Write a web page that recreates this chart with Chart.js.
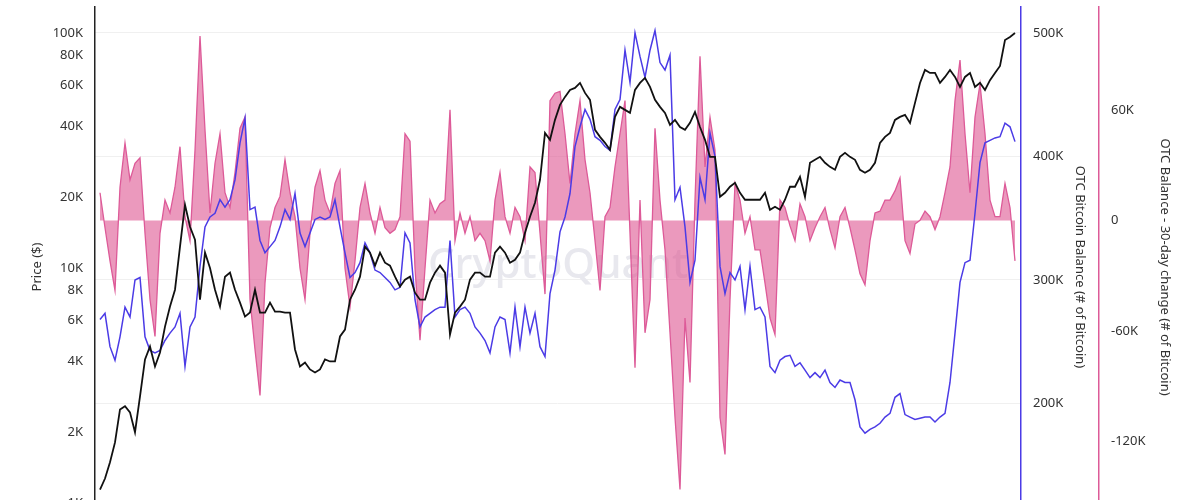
<!DOCTYPE html>
<html>
<head>
<meta charset="utf-8">
<script src="https://cdn.jsdelivr.net/npm/chart.js@4.4.1/dist/chart.umd.min.js"></script>
<style>
  html, body { margin: 0; padding: 0; background: #fff; overflow: hidden; }
  canvas { display: block; }
</style>
</head>
<body>
<canvas id="chart" width="1200" height="540"></canvas>
<script>
// one point every half month, starting around April 2017
const startYear = 2017.25

// BTC price ($)
const price = [
  1140, 1270, 1490, 1810, 2500, 2580, 2430, 2000, 2840, 4080, 4630, 3810, 4370, 5630, 6850, 8080, 12320, 18580, 14980, 13190, 7330, 11620, 10000,
  8080, 6850, 9180, 9550, 8080, 7120, 6210, 6460, 8080, 6460, 6460, 7120, 6520, 6520, 6460, 6460, 4500, 3810, 3960, 3700, 3590, 3700, 4080, 4000,
  4000, 5110, 5470, 7330, 8080, 9180, 12320, 11620, 10230, 11620, 10530, 10230, 9180, 8330, 8920, 9180, 7850, 7330, 7330, 8660, 9550, 10230,
  9550, 5210, 6460, 6850, 7330, 8920, 9550, 9550, 9180, 9180, 11620, 12320, 11620, 10530, 10840, 11620, 14130, 16520, 18950, 23730, 37580, 35100, 42680, 49430,
  53460, 57250, 58370, 61310, 55590, 51910, 38700, 36140, 34080, 31820, 43950, 48470, 47070, 45710, 57250, 61310, 64390, 58960, 51910, 48470, 45710, 40650,
  42680, 39800, 38700, 41450, 46160, 39800, 35100, 29710, 29710, 20090, 20890, 22160, 23040, 20890, 19510, 19510, 19510, 19510, 20890, 17690, 18220, 17690, 19510, 22160,
  22160, 24430, 20090, 28020, 28850, 29710, 28020, 26940, 26170, 29710, 30900, 29710, 28850, 26170, 25410, 26170, 28020, 34080, 36140, 37580, 42680, 43950, 44820,
  41450, 50410, 61310, 69620, 67610, 67610, 61310, 65010, 69620, 65010, 58960, 65010, 67610, 58960, 61310, 57250, 63000, 67610, 72400, 93380, 96160, 100000
]

// OTC bitcoin balance (thousand BTC)
const otcBalanceK = [
  268, 273, 246, 235, 254, 278, 270, 300, 302, 254, 243, 241, 243, 251, 257, 262, 273, 230, 262, 270, 311, 343, 351,
  354, 365, 359, 365, 381, 411, 431, 357, 359, 332, 322, 327, 332, 343, 357, 349, 370, 338, 327, 338, 349, 351, 349, 351,
  365, 343, 322, 302, 306, 314, 330, 322, 308, 306, 302, 298, 292, 294, 338, 330, 284, 262, 270, 273, 276, 278,
  278, 332, 270, 276, 278, 273, 262, 257, 251, 241, 262, 270, 268, 241, 278, 246, 278, 257, 273, 246, 238, 289, 308, 339,
  351, 370, 408, 424, 438, 430, 416, 413, 408, 405, 438, 446, 486, 460, 500, 481, 464, 486, 502, 476, 470, 482,
  365, 375, 343, 298, 316, 383, 365, 419, 400, 311, 289, 306, 300, 311, 276, 311, 276, 278, 270, 230, 225, 235, 238, 239,
  230, 233, 227, 221, 225, 221, 227, 217, 213, 219, 217, 217, 203, 181, 176, 179, 181, 184, 189, 192, 205, 208, 191,
  189, 187, 188, 189, 189, 185, 189, 192, 217, 257, 298, 314, 316, 354, 395, 411, 413, 415, 416, 427, 424, 412
]

// OTC balance 30-day change (thousand BTC)
const otcChangeK = [
  15, -4, -22, -38, 18, 42, 22, 31, 34, -7, -43, -63, -7, 11, 4, 18, 40, 2, -11, 38, 100, 49, 4,
  31, 47, 15, 7, 26, 50, 56, -43, -70, -95, -34, -4, 7, 13, 33, 15, 2, -26, -43, -7, 18, 27, 11, 4,
  20, 27, -26, -47, -22, 7, 20, 4, -7, 7, -4, -7, -5, 2, 47, 43, -26, -65, -26, 11, 4, 9,
  11, 60, -11, 4, -7, 2, -11, -7, -11, -22, 11, 26, 2, -7, 7, 2, -11, 29, 26, -7, -40, 65, 69, 70,
  47, 20, 47, 65, 33, 15, -11, -38, 2, 7, 29, 47, 65, -7, -80, 11, -61, -43, 50, 11, -16, -61,
  -107, -146, -53, -88, 11, 89, 29, 56, 38, -107, -127, -43, 20, 11, -7, 2, -16, -16, -34, -53, -62, 11, 7, -3,
  -11, 9, 2, -11, -4, 2, 7, -5, -15, 2, 7, -4, -16, -29, -35, -11, 4, 5, 11, 11, 16, 23, -11,
  -18, -2, 0, 5, 2, -5, 2, 15, 29, 65, 87, 47, 15, 56, 74, 47, 11, 2, 2, 20, 7, -22
]

const dates = price.map((_, i) => startYear + i / 24)

const priceTicks = [1000, 2000, 4000, 6000, 8000, 10000, 20000, 40000, 60000, 80000, 100000]
const balanceTicks = [200, 300, 400, 500]
const changeTicks = [-120, -60, 0, 60]

const black = '#111111'
const blue = '#4b3be6'
const pink = '#dd5a98'
const pinkFill = 'rgba(221, 85, 145, 0.6)'
const textColor = '#333333'
const font = {family: 'Noto Sans', size: 13}

const setTicks = list => scale => { scale.ticks = list.map(v => ({value: v})) }
const fitTo = w => scale => {
  scale.width = w
  scale.paddingTop = 0
  scale.paddingBottom = 0
}

// faint brand text behind the lines
const watermark = {
  id: 'watermark',
  beforeDatasetsDraw(chart) {
    const ctx = chart.ctx
    ctx.save()
    ctx.font = '500 42px "Noto Sans"'
    ctx.fillStyle = '#e8e8ee'
    ctx.textAlign = 'center'
    ctx.textBaseline = 'middle'
    ctx.fillText('CryptoQuant', 558, 266)
    ctx.restore()
  }
}

new Chart(document.getElementById('chart'), {
  type: 'line',
  data: {
    labels: dates,
    datasets: [
      {
        label: 'Price',
        data: price,
        yAxisID: 'yPrice',
        borderColor: black,
        borderWidth: 1.8,
        pointRadius: 0,
        order: 1
      },
      {
        label: 'OTC Bitcoin Balance',
        data: otcBalanceK,
        yAxisID: 'yBalance',
        borderColor: blue,
        borderWidth: 1.5,
        pointRadius: 0,
        order: 2
      },
      {
        label: 'OTC Balance - 30-day change',
        data: otcChangeK,
        yAxisID: 'yChange',
        borderColor: pink,
        backgroundColor: pinkFill,
        borderWidth: 1.3,
        pointRadius: 0,
        fill: 'origin',
        order: 3
      }
    ]
  },
  options: {
    responsive: false,
    animation: false,
    events: [],
    layout: {padding: {top: 7, bottom: 13, left: 0, right: 0}},
    plugins: {legend: {display: false}, tooltip: {enabled: false}},
    scales: {
      x: {
        type: 'linear',
        display: false,
        min: startYear - 1 / 24,
        max: startYear + 184.2 / 24
      },
      yPrice: {
        type: 'logarithmic',
        position: 'left',
        min: 790,
        max: 129000,
        afterBuildTicks: setTicks(priceTicks),
        afterFit: fitTo(95),
        grid: {display: false, drawTicks: false},
        border: {display: true, color: '#222', width: 1.5},
        ticks: {
          color: textColor,
          font: font,
          padding: 12,
          autoSkip: false,
          callback: v => (v / 1000) + 'K'
        },
        title: {display: true, text: 'Price ($)', color: textColor, font: font, padding: {top: 29, bottom: 0}}
      },
      yBalance: {
        type: 'linear',
        position: 'right',
        min: 100,
        max: 521,
        afterBuildTicks: setTicks(balanceTicks),
        afterFit: fitTo(78),
        grid: {color: '#f0f0f0', drawTicks: false},
        border: {display: true, color: blue, width: 1.5},
        ticks: {color: textColor, font: font, padding: 12, callback: v => v + 'K'},
        title: {display: true, text: 'OTC Bitcoin Balance (# of Bitcoin)', color: textColor, font: font, padding: {top: 11, bottom: 0}}
      },
      yChange: {
        type: 'linear',
        position: 'right',
        min: -166.4,
        max: 115.8,
        afterBuildTicks: setTicks(changeTicks),
        afterFit: fitTo(101),
        grid: {display: false, drawTicks: false},
        border: {display: true, color: pink, width: 1.5},
        ticks: {color: textColor, font: font, padding: 12, callback: v => v === 0 ? '0' : v + 'K'},
        title: {display: true, text: 'OTC Balance - 30-day change (# of Bitcoin)', color: textColor, font: font, padding: {top: 27, bottom: 0}}
      }
    }
  },
  plugins: [watermark]
})
</script>
</body>
</html>
